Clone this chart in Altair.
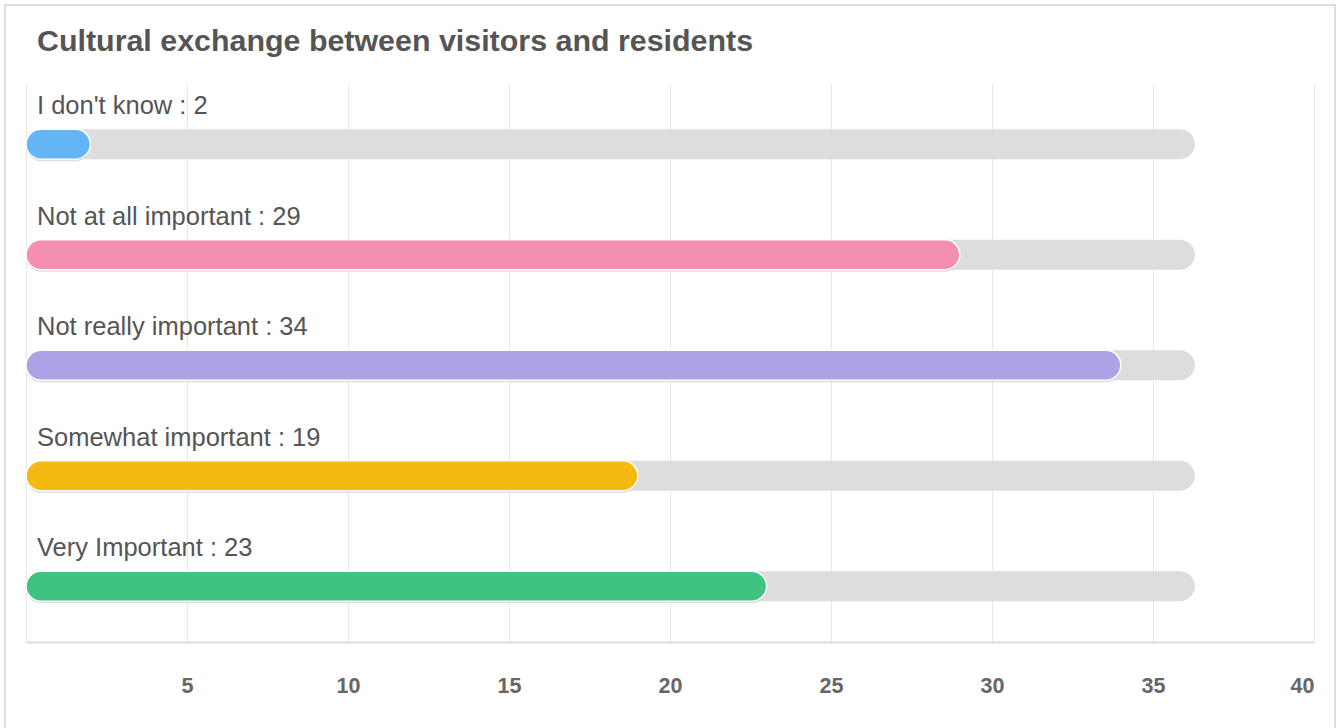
import altair as alt
import pandas as pd

title_text = "Cultural exchange between visitors and residents"
categories = ["I don't know", "Not at all important", "Not really important",
              "Somewhat important", "Very Important"]
values = [2, 29, 34, 19, 23]
colors = ["#64B5F6", "#F48FB1", "#ABA3E6", "#F4BA12", "#3EC480"]
track_max = [36.3, 36.3, 36.3, 36.3, 36.3]
tick_values = [0, 5, 10, 15, 20, 25, 30, 35, 40]

df = pd.DataFrame({
    "cat": categories,
    "value": values,
    "track": track_max,
    "zero": [0] * len(categories),
})
df["label"] = [f"{c} : {v}" for c, v in zip(categories, values)]

FONT = "Liberation Sans"

x_scale = alt.Scale(domain=[0, 40], nice=False, zero=True)
y_enc = alt.Y("cat:N", sort=categories, axis=None,
              scale=alt.Scale(paddingInner=0, paddingOuter=0.025, align=0.9))

base = alt.Chart(df)

frame = base.mark_rect(filled=False, stroke="#dddddd", strokeWidth=2).encode(
    x=alt.value(-21), x2=alt.value(1309), y=alt.value(-79), y2=alt.value(660)
).transform_filter("datum.cat == \"I don't know\"")

title_mark = base.mark_text(align="left", baseline="alphabetic", font=FONT,
                            fontSize=30.4, fontWeight="bold", color="#555555").encode(
    x=alt.value(11), y=alt.value(-33), text=alt.value(title_text)
).transform_filter("datum.cat == \"I don't know\"")

track = base.mark_bar(size=30, cornerRadius=15, color="#dddddd").encode(
    x=alt.X("zero:Q", scale=x_scale,
            axis=alt.Axis(values=tick_values, title=None, grid=True,
                          gridColor="#e6e6e6", gridWidth=1,
                          ticks=False, domain=True, domainColor="#dddddd",
                          domainWidth=2, labelPadding=33, labelFlush=True,
                          labelFont=FONT, labelFontSize=21.5, labelFontWeight="bold",
                          labelColor="#666666",
                          labelExpr="datum.value == 0 ? '' : datum.label")),
    x2="track:Q",
    y=y_enc,
)

shadow = base.mark_bar(size=30, cornerRadius=15, color="#cfcfcf", yOffset=2, opacity=0.7).encode(
    x=alt.X("zero:Q", scale=x_scale), x2="value:Q", y=y_enc,
)

bars = base.mark_bar(size=30, cornerRadius=15, stroke="white", strokeWidth=1.5).encode(
    x=alt.X("zero:Q", scale=x_scale),
    x2="value:Q",
    y=y_enc,
    color=alt.Color("cat:N", scale=alt.Scale(domain=categories, range=colors), legend=None),
)

labels = base.mark_text(align="left", baseline="alphabetic", dy=-30, font=FONT,
                        fontSize=25.5, color="#555555").encode(
    x=alt.value(11),
    y=y_enc,
    text="label:N",
)

chart = alt.layer(frame, title_mark, track, shadow, bars, labels).properties(
    width=1288,
    height=558,
    background="white",
    autosize=alt.AutoSizeParams(type="none"),
    padding={"left": 26, "top": 84, "right": 24, "bottom": 86},
).configure_view(strokeWidth=0, stroke=None)

chart.save("out.html", embed_options={"renderer": "svg", "actions": False})
